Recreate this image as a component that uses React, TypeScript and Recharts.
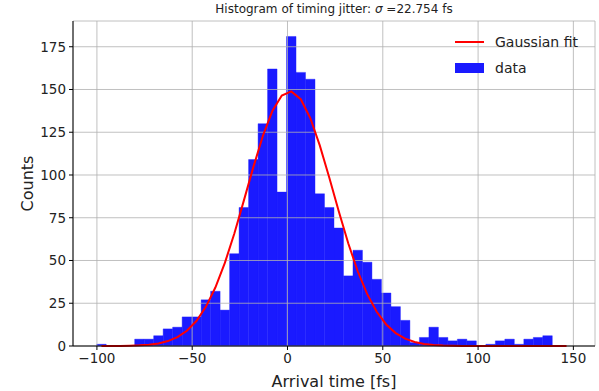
import React from 'react';
import {
  ComposedChart, Bar, Line, XAxis, YAxis, CartesianGrid, Legend, ReferenceArea, Label,
} from 'recharts';

// bin centres of the histogram (fs)
const binCenters = [
  -97.61, -92.63, -87.65, -82.67, -77.69, -72.71, -67.73, -62.75, -57.77, -52.79,
  -47.81, -42.83, -37.85, -32.87, -27.89, -22.91, -17.93, -12.95, -7.97, -2.99,
  1.99, 6.97, 11.95, 16.93, 21.91, 26.89, 31.87, 36.85, 41.83, 46.81,
  51.79, 56.77, 61.75, 66.73, 71.71, 76.69, 81.67, 86.65, 91.63, 96.61,
  101.59, 106.57, 111.55, 116.53, 121.51, 126.49, 131.47, 136.45, 141.43, 146.41,
];

// counts per bin
const counts = [
  1, 0, 0, 0, 4, 4, 6, 10, 11, 17,
  17, 27, 32, 21, 54, 81, 109, 130, 162, 90,
  181, 160, 156, 89, 81, 69, 41, 56, 49, 39,
  31, 23, 15, 2, 5, 11, 5, 3, 4, 3,
  0, 1, 3, 4, 1, 4, 5, 6, 0, 0,
];

// gaussian fit sampled at the bin centres
const fitValues = [
  0.01, 0.03, 0.07, 0.17, 0.37, 0.76, 1.52, 2.87, 5.19, 8.92,
  14.6, 22.9, 34.2, 48.6, 65.8, 85.0, 104.6, 122.8, 137.4, 146.5,
  148.9, 144.3, 133.3, 117.3, 98.5, 78.8, 60.1, 43.7, 30.3, 20.0,
  12.6, 7.55, 4.32, 2.36, 1.22, 0.61, 0.29, 0.13, 0.06, 0.02,
  0.01, 0, 0, 0, 0, 0, 0, 0, 0, 0,
];

const xTicks = [-100, -50, 0, 50, 100, 150];
const yTicks = [0, 25, 50, 75, 100, 125, 150, 175];

const sigma = '22.754';

const FONT = '"DejaVu Sans", sans-serif';
const BAR_COLOR = '#1a1aff';

const data = binCenters.map((x, i) => ({ x, count: counts[i], fit: fitValues[i] }));

const fmt = (v: number) => String(v).replace('-', '\u2212');

const LegendBox = () => (
  <svg width={150} height={60} style={{ fontFamily: FONT }}>
    <line x1={2} x2={31} y1={12} y2={12} stroke="#ff0000" strokeWidth={2} />
    <text x={42} y={12} dominantBaseline="central" fontSize={14} fill="#222">Gaussian fit</text>
    <rect x={2} y={33} width={29} height={10} fill={BAR_COLOR} />
    <text x={42} y={38} dominantBaseline="central" fontSize={14} fill="#222">data</text>
  </svg>
);

const App: React.FC = () => {
  return (
    <div style={{ position: 'absolute', left: 0, top: 0, width: 599, height: 391, background: '#fff', fontFamily: FONT }}>
      <div style={{ position: 'absolute', top: 2, left: 73, width: 522, textAlign: 'center', fontSize: 12, color: '#222', whiteSpace: 'nowrap' }}>
        Histogram of timing jitter: <i>σ</i> ={sigma} fs
      </div>
      <ComposedChart width={599} height={391} data={data} margin={{ top: 21, right: 4, left: 0, bottom: 0 }}>
        <XAxis
          dataKey="x"
          type="number"
          domain={[-112.55, 161.35]}
          ticks={xTicks}
          tickFormatter={fmt}
          height={45}
          tickSize={4}
          tickMargin={3}
          stroke="#000"
          tick={{ fill: '#222', fontSize: 13.5, fontFamily: FONT }}
        >
          <Label
            content={({ viewBox }: any) => (
              <text x={viewBox.x + viewBox.width / 2} y={viewBox.y + 35} textAnchor="middle" dominantBaseline="central" fontSize={16} fill="#222" fontFamily={FONT}>
                Arrival time [fs]
              </text>
            )}
          />
        </XAxis>
        <YAxis
          type="number"
          domain={[0, 190.05]}
          ticks={yTicks}
          width={73}
          tickSize={4}
          tickMargin={3}
          stroke="#000"
          tick={{ fill: '#222', fontSize: 13.5, fontFamily: FONT }}
        >
          <Label
            content={({ viewBox }: any) => {
              const cx = 27;
              const cy = viewBox.y + viewBox.height / 2;
              return (
                <text x={cx} y={cy} transform={`rotate(-90 ${cx} ${cy})`} textAnchor="middle" dominantBaseline="central" fontSize={16} fill="#222" fontFamily={FONT}>
                  Counts
                </text>
              );
            }}
          />
        </YAxis>
        <Bar dataKey="count" fill={BAR_COLOR} stroke={BAR_COLOR} strokeWidth={0.4} barSize={9.48} isAnimationActive={false} />
        <CartesianGrid stroke="#b0b0b0" strokeWidth={0.8} zIndex={350} />
        <Line dataKey="fit" type="linear" stroke="#ff0000" strokeWidth={2} dot={false} activeDot={false} isAnimationActive={false} />
        <ReferenceArea y1={0} fill="none" stroke="#000" strokeWidth={1} fillOpacity={0} zIndex={600} />
        <Legend
          layout="vertical"
          align="center"
          verticalAlign="middle"
          wrapperStyle={{ position: 'absolute', top: 30, left: 453, width: 150, height: 60 }}
          content={() => <LegendBox />}
        />
      </ComposedChart>
    </div>
  );
};

export default App;
